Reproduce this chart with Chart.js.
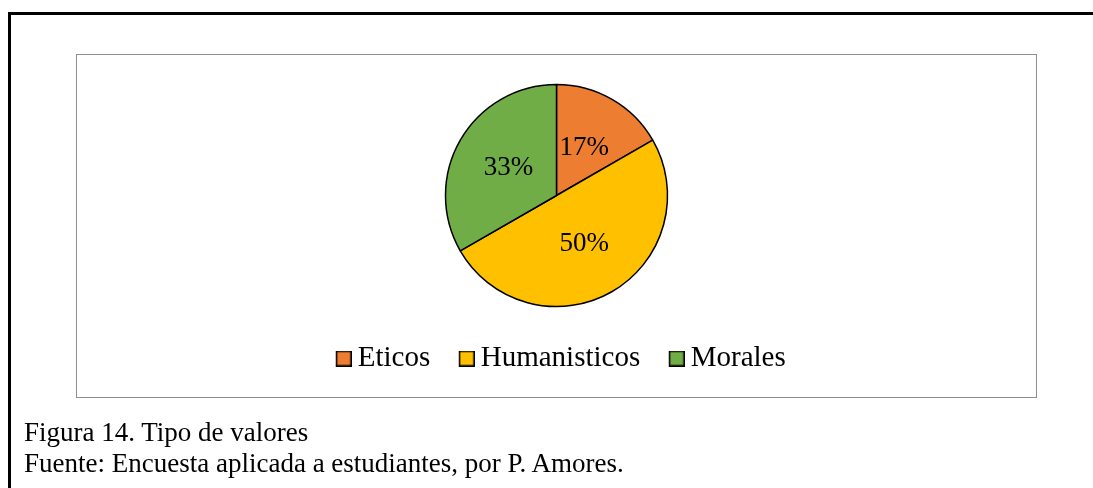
<!DOCTYPE html>
<html>
<head>
<meta charset="utf-8">
<script src="https://cdn.jsdelivr.net/npm/chart.js@4"></script>
<style>
    html, body { margin: 0; padding: 0; background: #fff; overflow: hidden; }
    body { width: 1093px; height: 488px; position: relative; font-family: 'Liberation Serif', serif; }
    #frame { position: absolute; left: 8px; top: 12px; width: 1200px; height: 600px;
             border-left: 3px solid #000; border-top: 3px solid #000; }
    #box { position: absolute; left: 76px; top: 54px; width: 959px; height: 342px;
           border: 1px solid #8f8f8f; }
    #wrap { position: absolute; left: 77px; top: 55px; width: 959px; height: 400px; }
    .caption { position: absolute; left: 24px; font-size: 27px; line-height: 27px; color: #000; white-space: nowrap; }
</style>
</head>
<body>
<div id="frame"></div>
<div id="box"></div>
<div id="wrap"><canvas id="pie" width="959" height="400"></canvas></div>
<div class="caption" style="top:419px">Figura 14. Tipo de valores</div>
<div class="caption" style="top:450px">Fuente: Encuesta aplicada a estudiantes, por P. Amores.</div>
<script>
const categories = ['Eticos', 'Humanisticos', 'Morales'];
const values = [16.7, 50, 33.3];
const colours = ['#ed7d31', '#ffc000', '#70ad47'];

// legend square drawn at the right of a wider image, so the text sits close to it
function legendSwatch(colour) {
    const c = document.createElement('canvas');
    c.width = 33;
    c.height = 16;
    const g = c.getContext('2d');
    g.fillStyle = colour;
    g.fillRect(17.75, 0.75, 14.5, 14.5);
    g.lineWidth = 1.5;
    g.strokeStyle = '#000';
    g.strokeRect(17.75, 0.75, 14.5, 14.5);
    return c;
}
const swatches = colours.map(legendSwatch);

// percent labels in the middle of each slice
const sliceLabels = {
    id: 'sliceLabels',
    afterDatasetsDraw(chart) {
        const ctx = chart.ctx;
        const meta = chart.getDatasetMeta(0);
        ctx.save();
        ctx.font = '27px "Liberation Serif"';
        ctx.fillStyle = '#000';
        ctx.textAlign = 'center';
        ctx.textBaseline = 'middle';
        meta.data.forEach((arc, i) => {
            const pos = arc.tooltipPosition();
            ctx.fillText(Math.round(values[i]) + '%', pos.x, pos.y);
        });
        ctx.restore();
    }
};

let ctx = document.getElementById('pie').getContext('2d');
let myChart = new Chart(ctx, {
    type: 'pie',
    data: {
        labels: categories,
        datasets: [{
            data: values,
            backgroundColor: colours,
            borderColor: '#000',
            borderWidth: 1.5
        }]
    },
    options: {
        responsive: false,
        animation: false,
        radius: 111,
        layout: {
            padding: { top: 12, bottom: 72 }
        },
        plugins: {
            legend: {
                position: 'bottom',
                labels: {
                    color: '#000',
                    usePointStyle: true,
                    boxWidth: 16,
                    boxHeight: 16,
                    padding: 20,
                    font: {
                        family: 'Liberation Serif',
                        size: 29
                    },
                    generateLabels: (chart) => {
                        const items = Chart.overrides.pie.plugins.legend.labels.generateLabels(chart);
                        items.forEach((item, i) => { item.pointStyle = swatches[i]; });
                        return items;
                    }
                }
            },
            tooltip: { enabled: false }
        }
    },
    plugins: [sliceLabels]
});
</script>
</body>
</html>
